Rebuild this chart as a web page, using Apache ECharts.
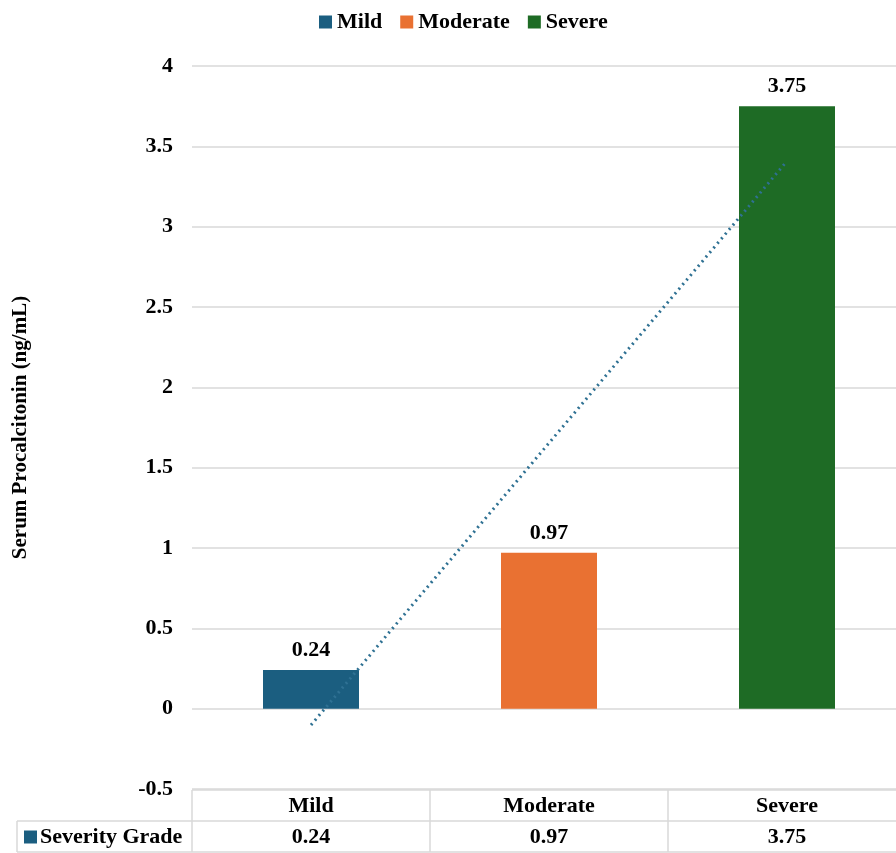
<!DOCTYPE html>
<html>
<head>
<meta charset="utf-8">
<script src="https://cdn.jsdelivr.net/npm/echarts@6/dist/echarts.min.js"></script>
<style>
html,body{margin:0;padding:0;background:#fff;overflow:hidden;width:896px;height:853px;}
#c{width:906px;height:853px;}
</style>
</head>
<body>
<div id="c"></div>
<script>
// ---- data ----
const categories = ['Mild', 'Moderate', 'Severe'];
const values = [0.24, 0.97, 3.75];
const colors = ['#1b5e80', '#e97132', '#1e6b25'];
const rowLabel = 'Severity Grade';
const yTicks = { min: -0.5, max: 4, interval: 0.5 };

// linear trendline (least squares over category index)
const n = values.length;
const xs = values.map((v, i) => i + 1);
const mx = xs.reduce((a, b) => a + b, 0) / n;
const my = values.reduce((a, b) => a + b, 0) / n;
let sxy = 0, sxx = 0;
xs.forEach((x, i) => { sxy += (x - mx) * (values[i] - my); sxx += (x - mx) * (x - mx); });
const slope = sxy / sxx, icpt = my - slope * mx;
const trend = xs.map(x => +(icpt + slope * x).toFixed(4));

const FONT = '"Liberation Serif", "Times New Roman", serif';
const chart = echarts.init(document.getElementById('c'));

const barSeries = categories.map((c, i) => ({
  name: c,
  type: 'bar',
  stack: 'grade',
  barWidth: 96,
  data: categories.map((_, j) => (j === i ? values[i] : null)),
  itemStyle: { color: colors[i] },
  label: {
    show: true, position: 'top', distance: 9,
    fontFamily: FONT, fontWeight: 'bold', fontSize: 22, color: '#000'
  },
  z: 2
}));

// table geometry helpers (styling only)
const gridLeft = 192, gridRight = 0, gridTop = 66, gridBottom = 64;
const W = 906, H = 853;
const plotW = W - gridLeft - gridRight;
const cellW = plotW / categories.length;
const tableTop = H - gridBottom + 1, rowH = 31, rowHeaderLeft = 17;
const lineColor = '#d9d9d9';
const TFS = 22;

const graphics = [];
function hline(x1, x2, y) {
  graphics.push({ type: 'line', shape: { x1, y1: y, x2, y2: y }, style: { stroke: lineColor, lineWidth: 1.5 }, silent: true });
}
function vline(x, y1, y2) {
  graphics.push({ type: 'line', shape: { x1: x, y1, x2: x, y2 }, style: { stroke: lineColor, lineWidth: 1.5 }, silent: true });
}
hline(gridLeft, W, tableTop);
hline(rowHeaderLeft, W, tableTop + rowH);
hline(rowHeaderLeft, W, tableTop + 2 * rowH);
vline(rowHeaderLeft, tableTop + rowH, tableTop + 2 * rowH);
for (let i = 0; i <= categories.length; i++) {
  vline(gridLeft + i * cellW, tableTop, tableTop + 2 * rowH);
}
categories.forEach((c, i) => {
  const cx = gridLeft + (i + 0.5) * cellW;
  graphics.push({ type: 'text', x: cx, y: tableTop + rowH / 2 + 1,
    style: { text: c, fontFamily: FONT, fontWeight: 'bold', fontSize: TFS, fill: '#000', align: 'center', verticalAlign: 'middle' } });
  graphics.push({ type: 'text', x: cx, y: tableTop + 1.5 * rowH + 1,
    style: { text: String(values[i]), fontFamily: FONT, fontWeight: 'bold', fontSize: TFS, fill: '#000', align: 'center', verticalAlign: 'middle' } });
});
graphics.push({ type: 'rect', shape: { x: 24, y: tableTop + 1.5 * rowH - 6, width: 13, height: 13 }, style: { fill: colors[0] } });
graphics.push({ type: 'text', x: 40, y: tableTop + 1.5 * rowH + 1,
  style: { text: rowLabel, fontFamily: FONT, fontWeight: 'bold', fontSize: TFS, fill: '#000', align: 'left', verticalAlign: 'middle' } });

chart.setOption({
  animation: false,
  backgroundColor: '#fff',
  textStyle: { fontFamily: FONT },
  legend: {
    data: categories,
    top: 6, left: 314,
    icon: 'rect', itemWidth: 13, itemHeight: 13, itemGap: 18,
    textStyle: { fontFamily: FONT, fontWeight: 'bold', fontSize: 22, color: '#000', padding: [0, 0, 0, 0] }
  },
  grid: { left: gridLeft, right: gridRight, top: gridTop, bottom: gridBottom, containLabel: false },
  xAxis: {
    type: 'category', data: categories,
    axisLine: { show: false }, axisTick: { show: false }, axisLabel: { show: false },
    splitLine: { show: false }
  },
  yAxis: {
    type: 'value', min: yTicks.min, max: yTicks.max, interval: yTicks.interval,
    name: 'Serum Procalcitonin (ng/mL)', nameLocation: 'middle', nameGap: 161, nameRotate: 90,
    nameTextStyle: { fontFamily: FONT, fontWeight: 'bold', fontSize: 21, color: '#000' },
    axisLine: { show: false }, axisTick: { show: false },
    axisLabel: { fontFamily: FONT, fontWeight: 'bold', fontSize: 22, color: '#000', margin: 19 },
    splitLine: { show: true, lineStyle: { color: lineColor, width: 1.5 } }
  },
  series: [
    ...barSeries,
    {
      name: 'Trendline', type: 'line', data: trend, symbol: 'none', z: 5,
      lineStyle: { type: [2, 4], width: 3, color: '#2f7193' },
      label: { show: false }, tooltip: { show: false }
    }
  ],
  graphic: graphics
});
</script>
</body>
</html>
